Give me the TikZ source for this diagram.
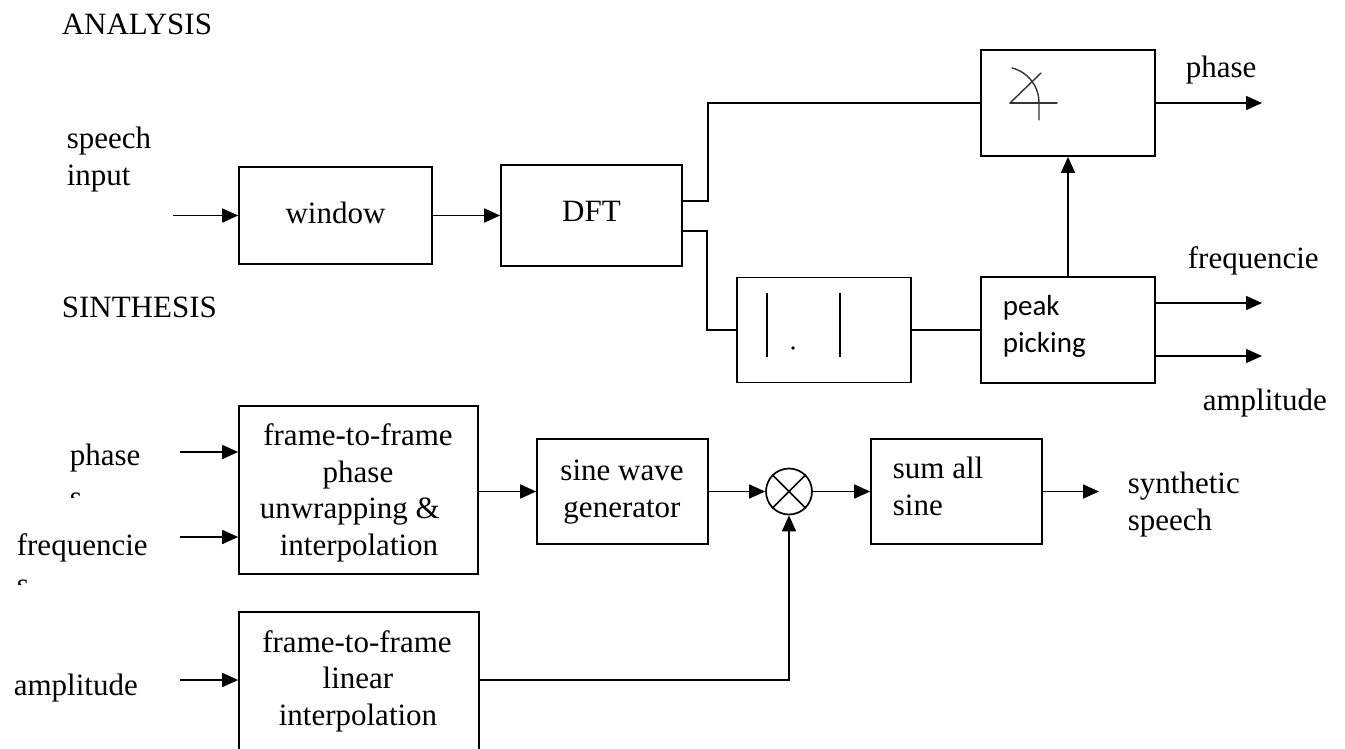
\documentclass[tikz,border=0pt]{standalone}
\usepackage{fontspec}
\setmainfont{Liberation Serif}
\newfontfamily\calibri{Carlito}
\usetikzlibrary{arrows.meta}

\begin{document}
\begin{tikzpicture}[x=1pt, y=-1pt, line width=1.7pt,
  blk/.style={draw, line width=1.7pt, inner sep=0pt, font=\fontsize{31}{36}\selectfont},
  lbl/.style={anchor=base west, inner sep=0pt, font=\fontsize{31}{36}\selectfont},
  clbl/.style={anchor=base, inner sep=0pt, font=\fontsize{31}{36}\selectfont},
  slbl/.style={anchor=base west, inner sep=0pt, font=\calibri\fontsize{29}{36}\selectfont},
  flow/.style={-{Triangle[length=16pt,width=14pt]}},
  glyph/.style={line width=1.4pt, black!80, line cap=round},
]
\useasboundingbox (0,0) rectangle (1345,748);
\clip (0,0) rectangle (1345,748);

% ---------------- analysis ----------------
\node[lbl] (tAna) at (61,34) {ANALYSIS};
\node[lbl] (tSp1) at (66,148) {speech};
\node[lbl] (tSp2) at (66,185) {input};

\node[blk, minimum width=193pt, minimum height=97pt,
      text height=21pt, text depth=6pt] (win) at (335.5,215.5) {window};
\node[blk, minimum width=181pt, minimum height=101pt,
      text height=21pt, text depth=10pt] (dft) at (591.5,215.5) {DFT};
\node[blk, minimum width=174pt, minimum height=106pt] (ang) at (1068,103) {};
\node[blk, minimum width=174pt, minimum height=105pt] (abs) at (824,330) {};
\node[blk, minimum width=174pt, minimum height=106pt] (peak) at (1068,330) {};

% angle sign
\draw[glyph] (1010,103) -- (1057,103);
\draw[glyph] (1010,103) -- (1041,73);
\draw[glyph] (1012,68) .. controls (1028,72) and (1039,86) .. (1039,103) -- (1039,120);

% magnitude sign
\draw[line width=1.4pt] (767,293) -- (767,357);
\draw[line width=1.4pt] (840,293) -- (840,357);
\fill (793,348) circle (1.8pt);

\node[slbl] (tPk1) at (1002,315) {peak};
\node[slbl] (tPk2) at (1002,352) {picking};

\coordinate (sIn) at (173,215.5);
\coordinate (brU) at (708,201);
\coordinate (brD) at (707,231);
\coordinate (outP) at (1262,103);
\coordinate (outF) at (1262,303);
\coordinate (outA) at (1262,356);

\draw[flow] (sIn) -- (win.west);
\draw[flow] (win.east) -- (win.east -| dft.west);
\draw (brU -| dft.east) -- (brU) |- (ang.west);
\draw (brD -| dft.east) -- (brD) |- (abs.west);
\draw (abs.east) -- (abs.east -| peak.west);
\draw[flow] (peak.north) -- (ang.south);
\draw[flow] (ang.east) -- (outP);
\draw[flow] (outF -| peak.east) -- (outF);
\draw[flow] (outA -| peak.east) -- (outA);

\node[lbl] (tOP) at (1185,77) {phase};
\node[lbl] (tOF) at (1187,268) {frequencie};
\node[lbl] (tOA) at (1202,410) {amplitude};

% ---------------- synthesis ----------------
\node[lbl] (tSyn) at (61,317) {SINTHESIS};

\node[blk, minimum width=239pt, minimum height=168pt] (unw) at (358.5,490) {};
\node[blk, minimum width=171pt, minimum height=105pt] (sg) at (622.5,491.5) {};
\node[draw, circle, line width=1.7pt, minimum size=46pt, inner sep=0pt] (mul) at (789,491.5) {};
\draw[line width=1.7pt] (mul.north west) -- (mul.south east)
                        (mul.north east) -- (mul.south west);
\node[blk, minimum width=171pt, minimum height=105pt] (sum) at (956.5,491.5) {};
\node[blk, minimum width=240pt, minimum height=168pt] (lin) at (359,696) {};

\node[clbl] (tU1) at (358,445) {frame-to-frame};
\node[clbl] (tU2) at (358,482) {phase};
\node[clbl] (tU3) at (358,518) {unwrapping \& \phantom{i}};
\node[clbl] (tU4) at (359,555) {interpolation};

\node[clbl] (tG1) at (622,480) {sine wave};
\node[clbl] (tG2) at (622,517) {generator};

\node[lbl] (tS1) at (892,478) {sum all};
\node[lbl] (tS2) at (892,515) {sine};

\node[lbl] (tY1) at (1127,493) {synthetic};
\node[lbl] (tY2) at (1127,530) {speech};

\node[clbl] (tL1) at (357,652) {frame-to-frame};
\node[clbl] (tL2) at (358,688) {linear};
\node[clbl] (tL3) at (358,725) {interpolation};

\node[lbl] (tIP) at (69,465) {phase};
\node[lbl] (tIF) at (16,555) {frequencie};
\node[lbl] (tIA) at (13,695) {amplitude};

% wrapped line ends, cut off by their label frames
\begin{scope}
  \clip (60,489) rectangle (95,497.5);
  \node[lbl] (tIPs) at (69,507.5) {s};
\end{scope}
\begin{scope}
  \clip (8,578) rectangle (45,584.5);
  \node[lbl] (tIFs) at (16,594.5) {s};
\end{scope}

\coordinate (inP) at (180,452);
\coordinate (inF) at (180,537);
\coordinate (inA) at (180,680);
\coordinate (outS) at (1099,491.5);

\draw[flow] (inP) -- (inP -| unw.west);
\draw[flow] (inF) -- (inF -| unw.west);
\draw[flow] (inA) -- (inA -| lin.west);
\draw[flow] (unw.east |- sg.west) -- (sg.west);
\draw[flow] (sg.east) -- (mul.west);
\draw[flow] (mul.east) -- (sum.west);
\draw[flow] (sum.east) -- (outS);
\draw[flow] (inA -| lin.east) -| (mul.south);
\end{tikzpicture}
\end{document}
